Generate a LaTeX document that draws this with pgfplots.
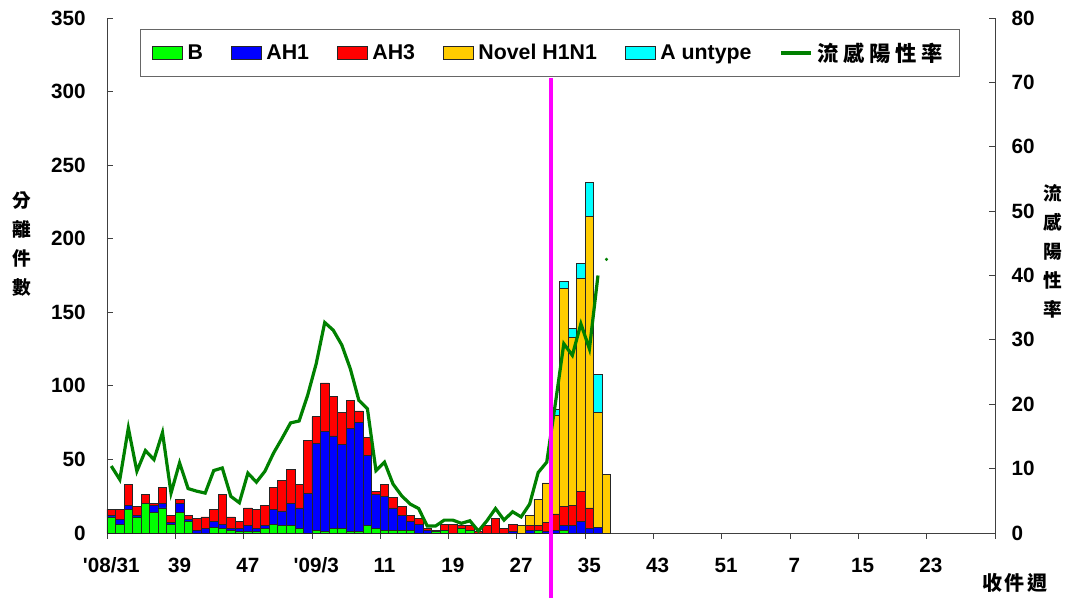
\documentclass[border=0pt]{standalone}
\usepackage{pgfplots}
\pgfplotsset{compat=1.18}
\usepackage{pgfplotstable}
\usepackage{fontspec}
\setmainfont{Liberation Sans}
\newfontfamily\cjk{Noto Sans CJK TC}
\definecolor{cB}{RGB}{0,255,0}
\definecolor{cAH1}{RGB}{0,0,255}
\definecolor{cAH3}{RGB}{255,0,0}
\definecolor{cNov}{RGB}{255,204,0}
\definecolor{cUnt}{RGB}{0,255,255}
\definecolor{cLine}{RGB}{0,128,0}
\definecolor{cMag}{RGB}{255,0,255}

\pgfplotstableread{
i B AH1 AH3 Novel Unt
0 11 1 4 0 0
1 6 3 7 0 0
2 16 3 14 0 0
3 11 1 6 0 0
4 20 0 6 0 0
5 14 5 1 0 0
6 17 3 11 0 0
7 6 1 5 0 0
8 14 6 3 0 0
9 8 1 3 0 0
10 0 2 8 0 0
11 0 3 8 0 0
12 4 4 8 0 0
13 3 3 20 0 0
14 2 1 8 0 0
15 1 2 5 0 0
16 1 4 12 0 0
17 1 2 13 0 0
18 3 2 14 0 0
19 6 10 15 0 0
20 5 10 21 0 0
21 5 15 23 0 0
22 3 14 16 0 0
23 0 27 36 0 0
24 2 59 18 0 0
25 1 68 33 0 0
26 3 63 27 0 0
27 3 57 22 0 0
28 1 70 19 0 0
29 1 74 8 0 0
30 5 48 12 0 0
31 3 23 2 0 0
32 2 23 8 0 0
33 2 15 7 0 0
34 2 10 6 0 0
35 2 6 4 0 0
36 0 6 4 0 0
37 0 2 1 0 0
38 1 0 1 0 0
39 2 0 4 0 0
40 0 0 6 0 0
41 3 0 2 0 0
42 2 0 3 0 0
43 0 0 1 0 0
44 0 0 5 0 0
45 0 0 10 0 0
46 0 0 3 0 0
47 0 1 5 0 0
48 0 0 0 5 0
49 0 2 3 7 0
50 2 0 3 18 0
51 0 1 6 27 0
52 0 2 11 67 4
53 2 3 13 148 5
54 0 5 14 114 6
55 0 8 20 145 10
56 0 3 14 198 23
57 0 4 0 78 26
58 0 0 0 40 0
}\bars

\pgfplotstableread{
i r
0 10.4
1 8.3
2 16.3
3 9.6
4 12.8
5 11.4
6 15.6
7 6.2
8 10.9
9 6.9
10 6.5
11 6.2
12 9.7
13 10.1
14 5.7
15 4.7
16 9.3
17 7.9
18 9.6
19 12.4
20 14.7
21 17.1
22 17.4
23 21.4
24 26.3
25 32.7
26 31.5
27 29.2
28 25.5
29 20.6
30 19.3
31 9.7
32 11.0
33 7.6
34 5.8
35 4.5
36 3.8
37 1.1
38 1.1
39 2.0
40 2.0
41 1.5
42 1.9
43 0.3
44 1.9
45 3.8
46 2.0
47 3.3
48 2.5
49 4.5
50 9.4
51 11.0
52 20.0
53 29.4
54 27.6
55 32.5
56 28.6
57 40.0
}\rate

\pgfplotsset{
  barleg/.style={legend image code/.code={\draw[##1] (0pt,-5pt) rectangle (22.5pt,5pt);}},
  linleg/.style={legend image code/.code={\draw[##1] (0pt,0pt) -- (22.5pt,0pt);}},
  common/.style={
    at={(0,0)}, anchor=south west, scale only axis,
    width=666pt, height=386.25pt,
    xmin=-0.5, xmax=103.5,
    axis line style={black!75, line width=0.6pt},
    tick style={black!75, line width=0.6pt},
    major tick length=4.2pt,
    ticklabel style={font=\bfseries\fontsize{15.5}{18}\selectfont},
    /pgf/number format/assume math mode=true,
  },
}

\begin{document}
\begin{tikzpicture}
\begin{axis}[common, name=main,
  ymin=0, ymax=350,
  axis x line*=bottom, axis y line*=left,
  xtick align=outside, ytick align=inside,
  ybar stacked, bar width=1,
  xtick={-0.5,7.5,15.5,23.5,31.5,39.5,47.5,55.5,63.5,71.5,79.5,87.5,95.5,103.5},
  xticklabels={\textquotesingle08/31,39,47,\textquotesingle09/3,11,19,27,35,43,51,7,15,23,{}},
  x tick label style={xshift=3.2pt, yshift=-11pt},
  y tick label style={xshift=-12.5pt},
  ytick={0,50,...,350},
  every axis y label/.style={at={(rel axis cs:-0.0957,0.561)}, anchor=center, align=center,
     font=\cjk\bfseries\fontsize{14}{21.75}\selectfont},
  ylabel={分\\離\\件\\數},
  every axis x label/.style={at={(rel axis cs:1.0225,-0.097)}, anchor=center,
     font=\cjk\bfseries\fontsize{15}{18}\selectfont},
  xlabel={收\hspace{2pt}件\hspace{2pt}週},
  clip=false,
]
\addplot[fill=cB, draw=black!85, line width=0.45pt] table[x=i,y=B]{\bars};
\addplot[fill=cAH1, draw=black!85, line width=0.45pt] table[x=i,y=AH1]{\bars};
\addplot[fill=cAH3, draw=black!85, line width=0.45pt] table[x=i,y=AH3]{\bars};
\addplot[fill=cNov, draw=black!85, line width=0.45pt] table[x=i,y=Novel]{\bars};
\addplot[fill=cUnt, draw=black!85, line width=0.45pt] table[x=i,y=Unt]{\bars};
\end{axis}

\begin{axis}[common,
  ymin=0, ymax=80,
  axis y line*=right, axis x line=none,
  ytick align=inside,
  ytick={0,10,...,80},
  y tick label style={xshift=9pt},
  every axis y label/.style={at={(rel axis cs:1.065,0.546)}, anchor=center, align=center,
     font=\cjk\bfseries\fontsize{14}{21.75}\selectfont},
  ylabel={流\\感\\陽\\性\\率},
  clip=false,
  legend columns=-1,
  legend style={at={(0.037,0.979)}, anchor=north west, draw=black!60, line width=0.7pt,
     fill=white, inner xsep=9pt, inner ysep=8pt,
     font=\bfseries\fontsize{16}{18}\selectfont,
     /tikz/every even column/.append style={column sep=17.5pt},
     nodes={inner xsep=3.5pt}},
]
\addlegendimage{barleg, fill=cB, draw=black!85, line width=0.5pt}
\addlegendentry{B}
\addlegendimage{barleg, fill=cAH1, draw=black!85, line width=0.5pt}
\addlegendentry{AH1}
\addlegendimage{barleg, fill=cAH3, draw=black!85, line width=0.5pt}
\addlegendentry{AH3}
\addlegendimage{barleg, fill=cNov, draw=black!85, line width=0.5pt}
\addlegendentry{Novel H1N1}
\addlegendimage{barleg, fill=cUnt, draw=black!85, line width=0.5pt}
\addlegendentry{A untype}
\addplot[cLine, line width=2.4pt, mark=none, linleg] table[x=i,y=r]{\rate};
\addlegendentry{\cjk 流\hspace{3.5pt}感\hspace{3.5pt}陽\hspace{3.5pt}性\hspace{3.5pt}率}
\addplot[only marks, mark=*, mark size=1pt, cLine, forget plot] coordinates {(58,42.5)};
\addplot[cMag, line width=2.8pt, forget plot] coordinates {(51.5,-10.1) (51.5,70.7)};
\end{axis}
\pgfresetboundingbox
\path[use as bounding box] (main.south west) ++(-80.25pt,-48.75pt) rectangle ++(800.25pt,448.5pt);
\end{tikzpicture}
\end{document}
